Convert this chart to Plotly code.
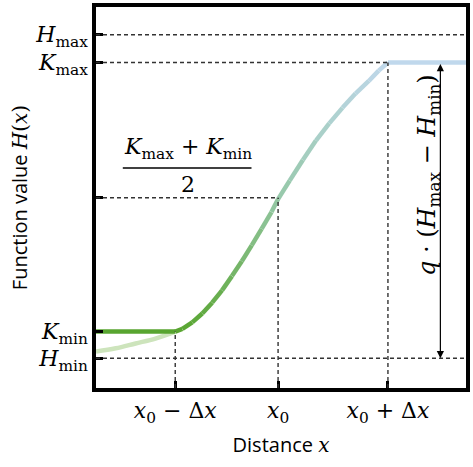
import plotly.graph_objects as go

# ---- data ----
x_tick_vals = [-0.967, 0.0, 1.033]
x_tick_text = ["<i>x</i><sub>0</sub> − Δ<i>x</i>", "<i>x</i><sub>0</sub>", "<i>x</i><sub>0</sub> + Δ<i>x</i>"]
H_min, K_min, K_mid, K_max, H_max = 0.0, 0.0826, 0.496, 0.914, 1.0
y_tick_vals = [H_min, K_min, K_mid, K_max, H_max]
y_tick_text = ["<i>H</i><sub>min</sub>", "<i>K</i><sub>min</sub>", "", "<i>K</i><sub>max</sub>", "<i>H</i><sub>max</sub>"]

curve_x = [-1.712, -0.967, -0.900, -0.807, -0.713, -0.620, -0.527, -0.434, -0.341, -0.248,
           -0.155, -0.062, 0.0, 0.109, 0.233, 0.356, 0.481, 0.605, 0.728, 0.853, 0.946,
           1.033, 1.767]
curve_y = [0.0826, 0.0826, 0.0908, 0.111, 0.1385, 0.172, 0.210, 0.254, 0.300, 0.349,
           0.400, 0.452, 0.492, 0.549, 0.613, 0.673, 0.726, 0.774, 0.818, 0.857, 0.889,
           0.914, 0.914]

faint_x = [-1.712, -1.526, -1.340, -1.153, -0.967]
faint_y = [0.021, 0.031, 0.046, 0.061, 0.0826]

x_range = [-1.712, 1.767]
y_range = [-0.0917, 1.0856]

# ---- colours ----
c_low = (88, 165, 48)
c_mid = (150, 200, 168)
c_high = (192, 216, 236)

def mix(a, b, t):
    return tuple(round(a[i] + (b[i] - a[i]) * t) for i in range(3))

def grad(t):
    t = max(0.0, min(1.0, t))
    if t < 0.5:
        return mix(c_low, c_mid, t / 0.5)
    return mix(c_mid, c_high, (t - 0.5) / 0.5)

fig = go.Figure()

# faint left curve
fig.add_trace(go.Scatter(x=faint_x, y=faint_y, mode="lines",
                         line=dict(color="rgb(205,228,188)", width=4.5, shape="spline"),
                         hoverinfo="skip", showlegend=False))

# gradient main curve, segment by segment
for i in range(len(curve_x) - 1):
    ym = (curve_y[i] + curve_y[i + 1]) / 2
    t = (ym - K_min) / (K_max - K_min)
    c = grad(t)
    fig.add_trace(go.Scatter(x=curve_x[i:i + 2], y=curve_y[i:i + 2], mode="lines",
                             line=dict(color=f"rgb{c}", width=4.5),
                             hoverinfo="skip", showlegend=False))

dash = dict(color="#333333", width=1.4, dash="4px,3px")
shapes = [
    dict(type="line", xref="x", yref="y", x0=x_range[0], x1=x_range[1], y0=H_max, y1=H_max, line=dash),
    dict(type="line", xref="x", yref="y", x0=x_range[0], x1=x_tick_vals[2], y0=K_max, y1=K_max, line=dash),
    dict(type="line", xref="x", yref="y", x0=x_range[0], x1=x_tick_vals[1], y0=K_mid, y1=K_mid, line=dash),
    dict(type="line", xref="x", yref="y", x0=x_range[0], x1=x_range[1], y0=H_min, y1=H_min, line=dash),
    dict(type="line", xref="x", yref="y", x0=x_tick_vals[0], x1=x_tick_vals[0], y0=y_range[0], y1=K_min, line=dash),
    dict(type="line", xref="x", yref="y", x0=x_tick_vals[1], x1=x_tick_vals[1], y0=y_range[0], y1=K_mid, line=dash),
    dict(type="line", xref="x", yref="y", x0=x_tick_vals[2], x1=x_tick_vals[2], y0=y_range[0], y1=K_max, line=dash),
    # fraction bar
    dict(type="line", xref="x", yref="y", x0=-1.46, x1=-0.25, y0=0.588, y1=0.588,
         line=dict(color="black", width=1.5)),
]

serif = "DejaVu Serif, Liberation Serif, serif"
arrow_x = 1.526
annotations = [
    dict(x=arrow_x, y=H_min, ax=arrow_x, ay=K_max, xref="x", yref="y", axref="x", ayref="y",
         showarrow=True, arrowhead=2, arrowside="end+start", arrowsize=1.2, arrowwidth=1.2,
         arrowcolor="black", text=""),
    dict(x=1.415, y=0.565, xref="x", yref="y", text="<i>q</i> · (<i>H</i><sub>max</sub> − <i>H</i><sub>min</sub>)",
         textangle=-90, showarrow=False, font=dict(family=serif, size=24, color="black")),
    dict(x=-0.85, y=0.648, xref="x", yref="y", text="<i>K</i><sub>max</sub> + <i>K</i><sub>min</sub>",
         showarrow=False, font=dict(family=serif, size=22, color="black")),
    dict(x=-0.85, y=0.536, xref="x", yref="y", text="2",
         showarrow=False, font=dict(family=serif, size=22, color="black")),
]

sans = "Open Sans, sans-serif"
fig.update_layout(
    width=473, height=467,
    margin=dict(l=96, r=3, t=3, b=79),
    plot_bgcolor="white", paper_bgcolor="white",
    shapes=shapes, annotations=annotations,
    xaxis=dict(range=x_range, tickvals=x_tick_vals, ticktext=x_tick_text,
               ticks="inside", ticklen=7, tickwidth=3, tickcolor="black",
               showline=True, linewidth=3.5, linecolor="black", mirror=True,
               showgrid=False, zeroline=False,
               tickfont=dict(family=serif, size=22, color="black"),
               title=dict(text="Distance <span style=\"font-family:'DejaVu Serif',serif\"><i>x</i></span>",
                          standoff=13, font=dict(family=sans, size=20, color="black"))),
    yaxis=dict(range=y_range, tickvals=y_tick_vals, ticktext=y_tick_text,
               ticks="inside", ticklen=7, tickwidth=3, tickcolor="black",
               showline=True, linewidth=3.5, linecolor="black", mirror=True,
               showgrid=False, zeroline=False,
               tickfont=dict(family=serif, size=22, color="black"),
               title=dict(text="Function value <span style=\"font-family:'DejaVu Serif',serif\"><i>H</i>(<i>x</i>)</span>",
                          standoff=3, font=dict(family=sans, size=20, color="black"))),
)

fig.write_html("out.html", config={"displayModeBar": False},
               post_script="document.body.style.margin='0';")
